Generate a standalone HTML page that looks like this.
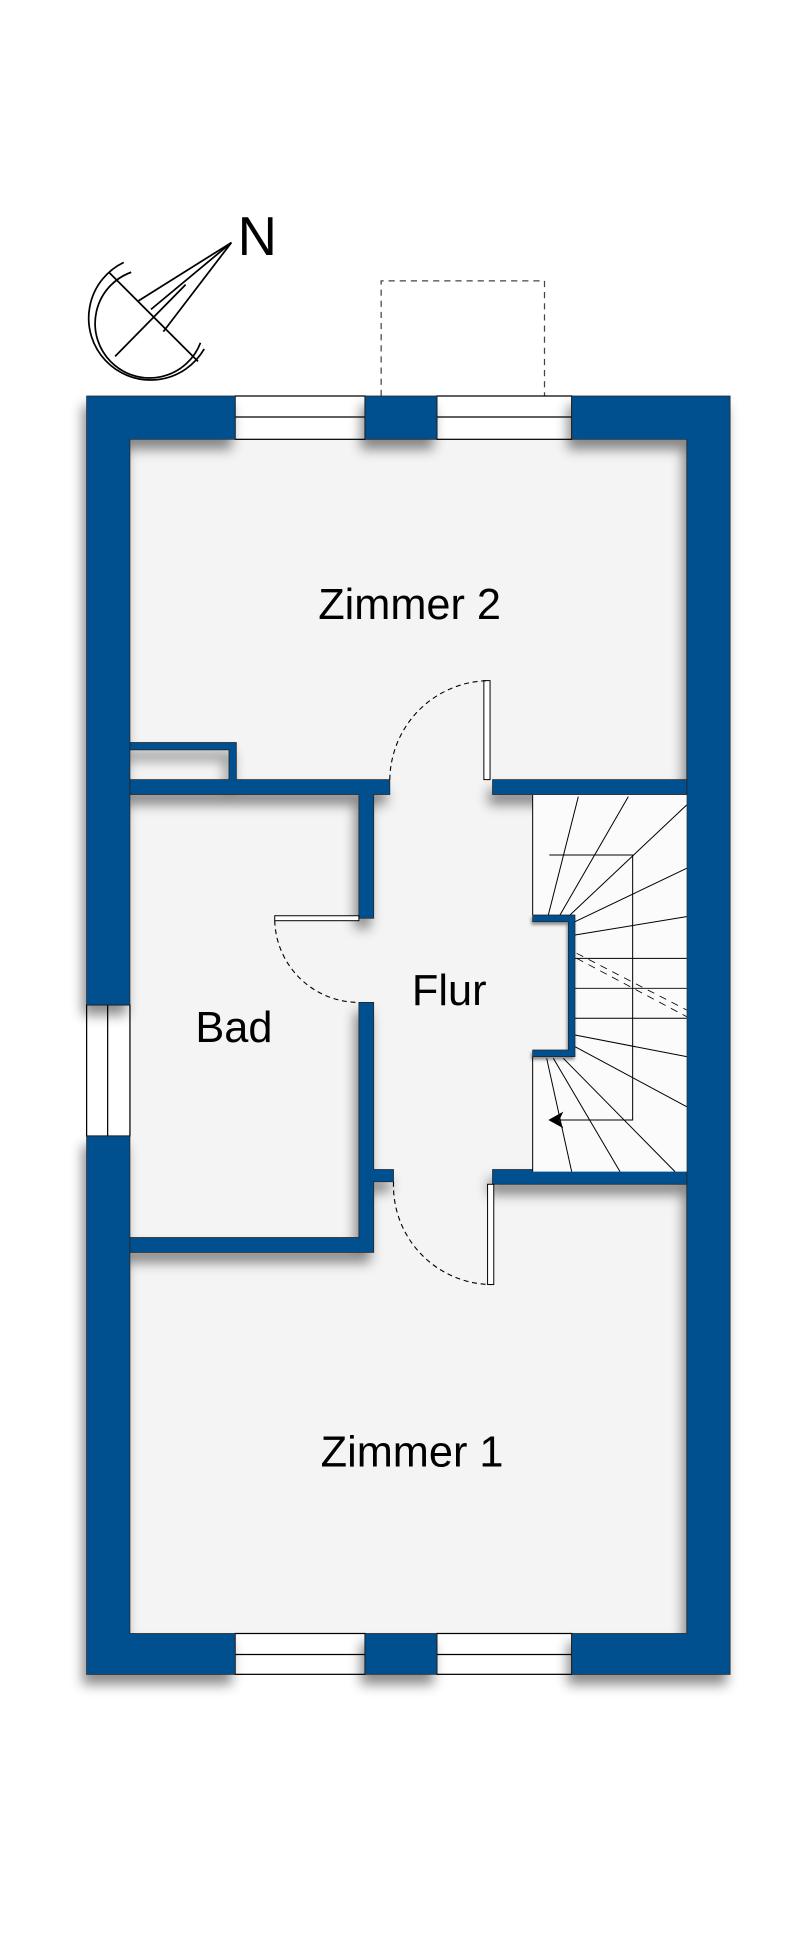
<!DOCTYPE html>
<html><head><meta charset="utf-8"><style>
html,body{margin:0;padding:0;background:#fff;}
svg{display:block}
text{font-family:"Liberation Sans","DejaVu Sans",sans-serif;fill:#000}
</style></head><body>
<svg width="792" height="1946" viewBox="0 0 792 1946" xmlns="http://www.w3.org/2000/svg">
<defs>
<filter id="sh" x="-10%" y="-10%" width="130%" height="130%">
<feDropShadow dx="-3" dy="8" stdDeviation="5" flood-color="#000" flood-opacity="0.45"/>
</filter>
</defs>
<rect width="792" height="1946" fill="#fff"/>
<g transform="scale(1.2375)">
<rect x="70" y="320" width="520" height="1033" fill="#f4f4f4"/>
<g fill="none" stroke="#000" stroke-width="1.4">
<path d="M106 220 A44 44 0 1 0 162 277"/>
<path d="M100 212 A50 50 0 1 0 165 282"/>
<line x1="88" y1="220" x2="160" y2="292"/>
<line x1="93" y1="288" x2="150" y2="230"/>
<line x1="112" y1="243" x2="187" y2="196"/>
<line x1="132" y1="268" x2="187" y2="196"/>
<line x1="122" y1="250" x2="187" y2="196"/>
</g>
<text x="192" y="206" font-size="44">N</text>
<path d="M308 320 V227 H440 V320" fill="none" stroke="#444" stroke-width="1" stroke-dasharray="5,4"/>
<g fill="#fff" stroke="#000" stroke-width="1">
<rect x="190" y="320" width="105" height="35"/><rect x="353" y="320" width="109" height="35"/>
<rect x="190" y="1320" width="105" height="33"/><rect x="353" y="1320" width="109" height="33"/>
<rect x="70" y="812" width="35" height="106"/>
<line x1="190" y1="337" x2="462" y2="337"/><line x1="190" y1="1337" x2="462" y2="1337"/>
<line x1="87" y1="812" x2="87" y2="918"/>
</g>
<g fill="#04508f" stroke="#222" stroke-width="0.6" filter="url(#sh)">
<path d="M70 320 H190 V355 H105 V812 H70 Z"/>
<rect x="295" y="320" width="58" height="35"/>
<path d="M462 320 H590 V1353 H462 V1320 H555 V355 H462 Z"/>
<path d="M70 918 H105 V1320 H190 V1353 H70 Z"/>
<rect x="295" y="1320" width="58" height="33"/>
<path d="M105 600 H191 V630 H315 V642 H302 V742 H290 V642 H105 V630 H185 V606 H105 Z"/>
<path d="M398 630 H555 V642 H398 Z"/>
<path d="M290 810 H302 V945 H318 V955 H302 V1012 H105 V1000 H290 Z"/>
<path d="M398 945 H555 V957 H398 Z"/>
</g>
<g fill="#fff" stroke="#000" stroke-width="0.8">
<rect x="391" y="550" width="5" height="80"/>
<rect x="222" y="740" width="68" height="4"/>
<rect x="394" y="957" width="5" height="81"/>
</g>
<g fill="none" stroke="#000" stroke-width="0.9" stroke-dasharray="4,3">
<path d="M315 630 A81 81 0 0 1 395 550"/>
<path d="M222 744 A68 68 0 0 0 290 810"/>
<path d="M318 955 A80 80 0 0 0 397 1038"/>
</g>
<text x="331" y="500" font-size="35" text-anchor="middle">Zimmer 2</text>
<text x="189" y="842" font-size="35" text-anchor="middle">Bad</text>
<text x="363" y="812" font-size="35" text-anchor="middle">Flur</text>
<text x="333" y="1185" font-size="35" text-anchor="middle">Zimmer 1</text>
</g>
<g transform="translate(520,780) scale(0.3333)">
<rect x="38" y="45" width="462" height="1130" fill="#fbfbfb"/>
<rect x="30" y="405" width="135" height="425" fill="#f4f4f4"/>
<g stroke="#000" stroke-width="3" fill="none">
<line x1="38" y1="45" x2="38" y2="405"/><line x1="38" y1="830" x2="38" y2="1175"/>
<line x1="85" y1="405" x2="175" y2="50"/>
<line x1="120" y1="405" x2="325" y2="50"/>
<line x1="150" y1="405" x2="500" y2="75"/>
<line x1="165" y1="425" x2="500" y2="265"/>
<line x1="165" y1="465" x2="500" y2="410"/>
<line x1="165" y1="535" x2="500" y2="535"/>
<line x1="165" y1="625" x2="500" y2="625"/>
<line x1="165" y1="715" x2="500" y2="715"/>
<line x1="165" y1="765" x2="500" y2="830"/>
<line x1="165" y1="800" x2="500" y2="980"/>
<line x1="130" y1="835" x2="465" y2="1175"/>
<line x1="100" y1="835" x2="300" y2="1175"/>
<line x1="80" y1="835" x2="155" y2="1175"/>
<path d="M88 225 H338 V1020 H100"/>
</g>
<g fill="#04508f" stroke="#222" stroke-width="2" filter="url(#sh)">
<path d="M38 405 H165 V830 H38 V810 H145 V425 H38 Z"/>
</g>
<path d="M85 1020 L130 995 L118 1020 L130 1045 Z" fill="#000"/>
<g stroke="#000" stroke-width="2.5" stroke-dasharray="22,18">
<line x1="170" y1="520" x2="500" y2="690"/>
<line x1="170" y1="535" x2="500" y2="710"/>
</g>
</g>
</svg>
</body></html>
